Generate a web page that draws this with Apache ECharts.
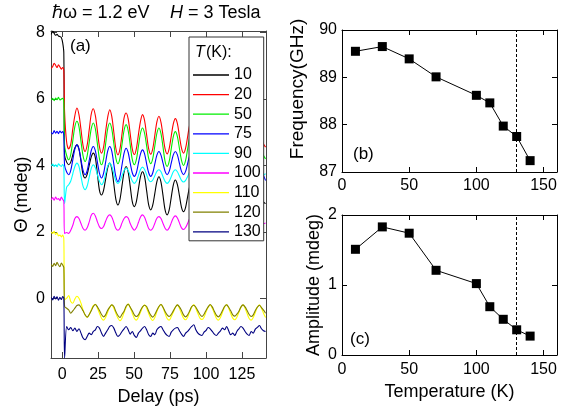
<!DOCTYPE html>
<html>
<head>
<meta charset="utf-8">
<script src="https://cdn.jsdelivr.net/npm/echarts@6/dist/echarts.min.js"></script>
<style>
  html, body { margin: 0; padding: 0; background: #fff; }
  #chart { width: 571px; height: 411px; }
</style>
</head>
<body>
<div id="chart"></div>
<script>
// Pump-probe delay (ps), shared by every trace
const delay = [
  -7.5, -6.5, -5.5, -4.5, -3.5, -2.5, -1.5, -0.5, 0.4, 1.2,
  1.75, 3.18, 4.6, 6.03, 7.45, 8.88, 10.3, 11.73, 13.15, 14.58,
  16.0, 17.43, 18.85, 20.28, 21.7, 23.13, 24.55, 25.98, 27.4, 28.83,
  30.25, 31.68, 33.1, 34.53, 35.95, 37.38, 38.8, 40.23, 41.65, 43.08,
  44.5, 45.93, 47.35, 48.78, 50.2, 51.63, 53.05, 54.48, 55.9, 57.33,
  58.75, 60.18, 61.6, 63.03, 64.45, 65.88, 67.3, 68.73, 70.15, 71.58,
  73.0, 74.43, 75.85, 77.28, 78.7, 80.13, 81.55, 82.98, 84.4, 85.83,
  87.25, 88.68, 90.1, 91.53, 92.95, 94.38, 95.8, 97.23, 98.65, 100.08,
  101.5, 102.93, 104.35, 105.78, 107.2, 108.63, 110.05, 111.48, 112.9, 114.33,
  115.75, 117.18, 118.6, 120.03, 121.45, 122.88, 124.3, 125.73, 127.15, 128.58,
  130.0, 131.43, 132.85, 134.28, 135.7, 137.13, 138.55, 139.98, 141.4
];

// Legend labels: sample temperature T (K)
const traceTemps = ['10', '20', '50', '75', '90', '100', '110', '120', '130'];

// Kerr rotation Θ (mdeg), vertically offset traces
const theta10K = [
  7.95, 8.05, 7.98, 7.92, 7.95, 7.9, 7.88, 7.85, 7.7, 7.4,
  4.3, 4.1, 4.02, 4.1, 4.32, 4.53, 4.62, 4.5,
  4.12, 3.73, 3.62, 3.73, 4.0, 4.26, 4.37, 4.23,
  3.74, 3.25, 3.11, 3.25, 3.59, 3.93, 4.07, 3.9,
  3.44, 2.98, 2.81, 2.98, 3.39, 3.8, 3.97, 3.8,
  3.37, 2.91, 2.76, 2.91, 3.29, 3.66, 3.81, 3.66,
  3.24, 2.81, 2.66, 2.81, 3.16, 3.51, 3.66, 3.5,
  3.09, 2.66, 2.51, 2.66, 3.04, 3.41, 3.56, 3.42,
  3.09, 2.74, 2.61, 2.74, 3.06, 3.37, 3.5, 3.37,
  3.03, 2.68, 2.55, 2.68, 3.0, 3.32, 3.45, 3.32,
  3.0, 2.68, 2.55, 2.68, 2.99, 3.29, 3.42, 3.29,
  2.98, 2.68, 2.55, 2.68, 2.98, 3.28, 3.4, 3.27,
  2.99, 2.7, 2.58, 2.7, 2.99, 3.28, 3.4, 3.3,
  3.1, 2.9, 2.85
];
const theta20K = [
  6.92, 6.98, 7.08, 7.02, 6.95, 7.03, 6.97, 6.9, 6.95, 6.85,
  5.6, 4.7, 4.5, 4.64, 5.1, 5.5, 5.73, 5.53,
  5.08, 4.6, 4.42, 4.61, 5.07, 5.55, 5.71, 5.5,
  5.04, 4.56, 4.37, 4.55, 5.02, 5.45, 5.68, 5.48,
  5.0, 4.51, 4.32, 4.5, 4.95, 5.43, 5.58, 5.4,
  4.95, 4.5, 4.33, 4.51, 4.93, 5.33, 5.53, 5.35,
  4.92, 4.5, 4.34, 4.51, 4.91, 5.31, 5.48, 5.3,
  4.9, 4.5, 4.35, 4.51, 4.88, 5.25, 5.41, 5.26,
  4.88, 4.52, 4.37, 4.52, 4.87, 5.23, 5.38, 5.23,
  4.86, 4.52, 4.38, 4.52, 4.85, 5.19, 5.33, 5.19,
  4.85, 4.53, 4.4, 4.53, 4.85, 5.17, 5.3, 5.17,
  4.83, 4.53, 4.4, 4.53, 4.83, 5.13, 5.25, 5.12,
  4.82, 4.54, 4.42, 4.54, 4.82, 5.1, 5.22, 5.1,
  4.85, 4.65, 4.55
];
const theta50K = [
  5.97, 6.02, 5.95, 6.03, 5.98, 6.05, 5.97, 6.0, 6.02, 5.9,
  4.6, 4.3, 4.17, 4.33, 4.75, 5.17, 5.33, 5.17,
  4.72, 4.29, 4.12, 4.29, 4.7, 5.11, 5.28, 5.1,
  4.65, 4.2, 4.02, 4.2, 4.65, 5.1, 5.28, 5.1,
  4.66, 4.22, 4.05, 4.22, 4.64, 5.06, 5.23, 5.05,
  4.62, 4.18, 4.02, 4.18, 4.58, 4.97, 5.13, 4.97,
  4.59, 4.21, 4.05, 4.21, 4.59, 4.97, 5.13, 4.96,
  4.55, 4.12, 3.97, 4.12, 4.5, 4.87, 5.02, 4.87,
  4.51, 4.15, 4.0, 4.15, 4.5, 4.85, 5.0, 4.85,
  4.5, 4.16, 4.02, 4.16, 4.5, 4.83, 4.97, 4.83,
  4.5, 4.17, 4.03, 4.17, 4.49, 4.82, 4.95, 4.81,
  4.49, 4.18, 4.05, 4.18, 4.49, 4.79, 4.92, 4.79,
  4.48, 4.18, 4.05, 4.18, 4.48, 4.77, 4.9, 4.77,
  4.5, 4.3, 4.2
];
const theta75K = [
  5.0, 4.95, 5.05, 4.97, 5.03, 4.96, 5.04, 4.98, 5.02, 4.9,
  4.0, 3.8, 3.72, 3.85, 4.17, 4.49, 4.62, 4.49,
  4.17, 3.85, 3.72, 3.84, 4.15, 4.45, 4.57, 4.44,
  4.1, 3.76, 3.62, 3.76, 4.1, 4.43, 4.57, 4.43,
  4.04, 3.66, 3.51, 3.66, 4.02, 4.37, 4.52, 4.39,
  4.07, 3.78, 3.67, 3.78, 4.07, 4.35, 4.47, 4.35,
  4.05, 3.78, 3.67, 3.78, 4.05, 4.31, 4.42, 4.31,
  4.07, 3.82, 3.72, 3.82, 4.07, 4.32, 4.42, 4.32,
  4.06, 3.82, 3.72, 3.82, 4.06, 4.3, 4.4, 4.3,
  4.05, 3.82, 3.72, 3.82, 4.05, 4.28, 4.38, 4.28,
  4.04, 3.81, 3.72, 3.81, 4.04, 4.27, 4.36, 4.27,
  4.03, 3.8, 3.7, 3.8, 4.03, 4.26, 4.35, 4.26,
  4.03, 3.8, 3.7, 3.8, 4.03, 4.26, 4.35, 4.25,
  4.0, 3.7, 3.55
];
const theta90K = [
  3.98, 4.04, 3.97, 4.02, 3.96, 4.05, 4.0, 3.97, 4.03, 3.95,
  2.85, 3.35, 3.42, 3.53, 3.75, 3.97, 4.07, 3.97,
  3.67, 3.37, 3.27, 3.38, 3.65, 3.91, 4.02, 3.93,
  3.72, 3.52, 3.42, 3.51, 3.75, 3.98, 4.07, 3.97,
  3.75, 3.53, 3.46, 3.53, 3.69, 3.85, 3.92, 3.85,
  3.69, 3.53, 3.46, 3.53, 3.7, 3.88, 3.95, 3.88,
  3.72, 3.56, 3.51, 3.56, 3.69, 3.82, 3.87, 3.81,
  3.66, 3.52, 3.46, 3.52, 3.66, 3.81, 3.87, 3.81,
  3.68, 3.55, 3.5, 3.55, 3.67, 3.8, 3.85, 3.8,
  3.67, 3.55, 3.5, 3.55, 3.67, 3.8, 3.85, 3.8,
  3.68, 3.57, 3.52, 3.57, 3.68, 3.79, 3.84, 3.79,
  3.67, 3.57, 3.52, 3.57, 3.67, 3.78, 3.83, 3.78,
  3.68, 3.57, 3.53, 3.57, 3.68, 3.78, 3.83, 3.8,
  3.75, 3.72, 3.75
];
const theta100K = [
  2.97, 3.03, 2.95, 3.05, 2.98, 3.0, 2.94, 3.05, 2.98, 2.92,
  1.95, 1.98, 1.95, 2.05, 2.2, 2.4, 2.46, 2.4,
  2.25, 2.1, 2.05, 2.12, 2.3, 2.5, 2.56, 2.48,
  2.3, 2.15, 2.1, 2.16, 2.32, 2.46, 2.51, 2.45,
  2.28, 2.1, 2.05, 2.11, 2.27, 2.4, 2.46, 2.42,
  2.25, 2.12, 2.05, 2.12, 2.28, 2.45, 2.51, 2.44,
  2.27, 2.1, 2.05, 2.11, 2.26, 2.41, 2.46, 2.4,
  2.25, 2.11, 2.05, 2.12, 2.27, 2.42, 2.48, 2.42,
  2.27, 2.12, 2.07, 2.13, 2.26, 2.4, 2.45, 2.4,
  2.26, 2.12, 2.07, 2.13, 2.26, 2.39, 2.45, 2.39,
  2.26, 2.13, 2.08, 2.13, 2.26, 2.38, 2.44, 2.38,
  2.26, 2.13, 2.08, 2.13, 2.26, 2.38, 2.44, 2.38,
  2.27, 2.15, 2.1, 2.15, 2.27, 2.38, 2.44, 2.38,
  2.3, 2.25, 2.27
];
const theta110K = [
  2.0, 1.95, 2.02, 1.92, 1.97, 1.88, 1.9, 1.85, 1.9, 1.8,
  -0.05, 0.0, 0.08, -0.1, -0.15, -0.02, 0.06, 0.0,
  -0.15, -0.35, -0.5, -0.58, -0.5, -0.35, -0.22, -0.18,
  -0.3, -0.45, -0.6, -0.66, -0.58, -0.42, -0.27, -0.2,
  -0.3, -0.46, -0.6, -0.68, -0.6, -0.43, -0.28, -0.17,
  -0.28, -0.45, -0.6, -0.66, -0.57, -0.42, -0.28, -0.2,
  -0.3, -0.46, -0.6, -0.67, -0.58, -0.4, -0.26, -0.18,
  -0.29, -0.46, -0.61, -0.66, -0.56, -0.42, -0.28, -0.2,
  -0.3, -0.47, -0.6, -0.65, -0.57, -0.41, -0.27, -0.19,
  -0.31, -0.46, -0.6, -0.64, -0.57, -0.41, -0.27, -0.2,
  -0.3, -0.45, -0.6, -0.66, -0.58, -0.42, -0.27, -0.19,
  -0.3, -0.46, -0.6, -0.65, -0.57, -0.42, -0.28, -0.2,
  -0.3, -0.46, -0.61, -0.66, -0.58, -0.43, -0.27, -0.2,
  -0.3, -0.45, -0.58
];
const theta120K = [
  1.02, 0.96, 1.05, 0.98, 1.08, 1.0, 0.95, 1.06, 1.0, 0.93,
  -0.25, -0.3, -0.35, -0.45, -0.38, -0.3, -0.22, -0.2,
  -0.27, -0.38, -0.5, -0.57, -0.49, -0.38, -0.25, -0.19,
  -0.26, -0.37, -0.49, -0.56, -0.5, -0.36, -0.27, -0.2,
  -0.25, -0.4, -0.52, -0.58, -0.48, -0.39, -0.24, -0.18,
  -0.27, -0.38, -0.5, -0.55, -0.5, -0.37, -0.26, -0.21,
  -0.25, -0.39, -0.51, -0.57, -0.49, -0.36, -0.25, -0.19,
  -0.27, -0.4, -0.5, -0.55, -0.49, -0.38, -0.27, -0.2,
  -0.26, -0.37, -0.5, -0.56, -0.5, -0.38, -0.25, -0.21,
  -0.27, -0.38, -0.49, -0.55, -0.48, -0.36, -0.26, -0.19,
  -0.26, -0.39, -0.51, -0.56, -0.49, -0.37, -0.25, -0.2,
  -0.27, -0.38, -0.5, -0.54, -0.48, -0.39, -0.26, -0.2,
  -0.26, -0.37, -0.49, -0.55, -0.5, -0.37, -0.27, -0.21,
  -0.28, -0.36, -0.45
];
const theta130K = [
  0.02, -0.05, 0.06, -0.02, 0.04, -0.06, 0.03, -0.04, 0.05, 0.0,
  -1.8, -0.85, -0.95, -0.88, -0.98, -0.9, -1.0, -0.92,
  -1.05, -1.2, -1.25, -1.15, -1.05, -1.1, -1.0, -0.95,
  -0.85, -0.9, -1.05, -1.15, -1.05, -0.95, -0.85, -0.82,
  -0.9, -1.05, -1.15, -1.1, -1.0, -0.92, -0.85, -0.95,
  -1.08, -1.0, -1.12, -1.18, -1.05, -0.98, -0.9, -0.85,
  -0.95, -1.1, -1.15, -1.05, -1.1, -0.95, -0.88, -0.85,
  -0.95, -1.05, -1.12, -1.15, -1.02, -0.95, -0.9, -0.88,
  -0.98, -1.08, -1.15, -1.05, -1.0, -0.92, -0.85, -0.8,
  -0.95, -1.05, -1.1, -1.12, -1.02, -0.97, -0.88, -0.92,
  -1.0, -1.08, -1.12, -1.05, -0.98, -0.9, -0.95, -0.85,
  -0.98, -1.1, -1.05, -1.12, -1.0, -0.92, -0.85, -0.9,
  -1.0, -1.08, -1.12, -1.0, -1.05, -0.93, -0.88, -0.82,
  -0.92, -0.98, -1.0
];

// Fitted oscillation parameters versus temperature
const fitTempK = [10, 30, 50, 70, 100, 110, 120, 130, 140];
const freqGHz = [89.55, 89.65, 89.39, 89.01, 88.62, 88.46, 87.97, 87.75, 87.24];
const ampMdeg = [1.51, 1.83, 1.74, 1.21, 1.02, 0.69, 0.51, 0.36, 0.27];
const transitionK = 130;

const traceValues = [theta10K, theta20K, theta50K, theta75K, theta90K,
                     theta100K, theta110K, theta120K, theta130K];
const traceColors = ['#000000', '#ff0000', '#00ee00', '#0000ff', '#00ffff',
                     '#ff00ff', '#ffff00', '#808000', '#000080'];

const FONT = '"Liberation Sans", Arial, Helvetica, sans-serif';
const chart = echarts.init(document.getElementById('chart'), null, { renderer: 'canvas' });

function frameAxis(gridIndex, position, min, max, color, extra) {
  return Object.assign({
    gridIndex, position, type: 'value', min, max,
    axisLine: { show: true, onZero: false, lineStyle: { color, width: 1 } },
    axisTick: { show: false },
    axisLabel: { show: false },
    splitLine: { show: false }
  }, extra || {});
}

const leftFrame = '#444';
const tickLabel = { fontSize: 16, fontFamily: FONT, color: '#000' };
const axisName = { fontSize: 18, fontFamily: FONT, color: '#000' };

const xAxes = [
  // panel (a)
  frameAxis(0, 'bottom', -7.7, 141.7, leftFrame, {
    axisTick: { show: true, inside: true, length: 6, customValues: [0, 25, 50, 75, 100, 125], lineStyle: { color: leftFrame } },
    axisLabel: Object.assign({ show: true, margin: 9, customValues: [0, 25, 50, 75, 100, 125] }, tickLabel),
    name: 'Delay (ps)', nameLocation: 'middle', nameGap: 28, nameTextStyle: axisName
  }),
  frameAxis(0, 'top', -7.7, 141.7, leftFrame, {
    axisTick: { show: true, inside: true, length: 6, customValues: [0, 25, 50, 75, 100, 125], lineStyle: { color: leftFrame } }
  }),
  // panel (b)
  frameAxis(1, 'bottom', 0, 160, '#000', {
    interval: 50,
    axisTick: { show: true, inside: true, length: 5 },
    axisLabel: Object.assign({ show: true, margin: 6 }, tickLabel)
  }),
  frameAxis(1, 'top', 0, 160, '#000', { interval: 50, axisTick: { show: true, inside: true, length: 5 } }),
  // panel (c)
  frameAxis(2, 'bottom', 0, 160, '#000', {
    interval: 50,
    axisTick: { show: true, inside: true, length: 5 },
    axisLabel: Object.assign({ show: true, margin: 7 }, tickLabel),
    name: 'Temperature (K)', nameLocation: 'middle', nameGap: 28, nameTextStyle: axisName
  }),
  frameAxis(2, 'top', 0, 160, '#000', { interval: 50, axisTick: { show: true, inside: true, length: 5 } })
];

const yAxes = [
  frameAxis(0, 'left', -1.8, 8.05, leftFrame, {
    axisTick: { show: true, inside: true, length: 6, customValues: [0, 2, 4, 6, 8], lineStyle: { color: leftFrame } },
    axisLabel: Object.assign({ show: true, margin: 6, customValues: [0, 2, 4, 6, 8] }, tickLabel),
    name: 'Θ (mdeg)', nameLocation: 'middle', nameGap: 20, nameTextStyle: axisName
  }),
  frameAxis(0, 'right', -1.8, 8.05, leftFrame, {
    axisTick: { show: true, inside: true, length: 6, customValues: [0, 2, 4, 6, 8], lineStyle: { color: leftFrame } }
  }),
  frameAxis(1, 'left', 87, 90, '#000', {
    interval: 1,
    axisTick: { show: true, inside: true, length: 5 },
    axisLabel: Object.assign({ show: true, margin: 5 }, tickLabel),
    name: 'Frequency(GHz)', nameLocation: 'middle', nameGap: 35,
    nameTextStyle: Object.assign({}, axisName, { fontSize: 19, padding: [0, 0, 0, 24] })
  }),
  frameAxis(1, 'right', 87, 90, '#000', { interval: 1, axisTick: { show: true, inside: true, length: 5 } }),
  frameAxis(2, 'left', 0, 2, '#000', {
    interval: 1,
    axisTick: { show: true, inside: true, length: 5 },
    axisLabel: Object.assign({ show: true, margin: 5 }, tickLabel),
    name: 'Amplitude (mdeg)', nameLocation: 'middle', nameGap: 19, nameTextStyle: axisName
  }),
  frameAxis(2, 'right', 0, 2, '#000', { interval: 1, axisTick: { show: true, inside: true, length: 5 } })
];

const traceSeries = traceTemps.map((name, k) => ({
  name,
  type: 'line',
  xAxisIndex: 0,
  yAxisIndex: 0,
  data: delay.map((t, i) => [t, traceValues[k][i]]),
  symbol: 'none',
  smooth: 0.3,
  clip: true,
  color: traceColors[k],
  lineStyle: { color: traceColors[k], width: 1.1 },
  z: 2
}));

function fitSeries(name, gridAxis, values) {
  return {
    name,
    type: 'line',
    xAxisIndex: gridAxis,
    yAxisIndex: gridAxis,
    data: fitTempK.map((t, i) => [t, values[i]]),
    symbol: 'rect',
    symbolSize: 9,
    itemStyle: { color: '#000' },
    lineStyle: { color: '#000', width: 1 },
    markLine: {
      silent: true,
      symbol: ['none', 'none'],
      label: { show: false },
      lineStyle: { color: '#000', width: 1, type: [3, 2] },
      data: [{ xAxis: transitionK }]
    },
    z: 3
  };
}

const option = {
  animation: false,
  backgroundColor: '#fff',
  grid: [
    { left: 51, top: 31, width: 215, height: 327 },
    { left: 342, top: 30, width: 215, height: 142 },
    { left: 342, top: 215, width: 215, height: 140 }
  ],
  xAxis: xAxes,
  yAxis: yAxes,
  legend: {
    data: traceTemps,
    orient: 'vertical',
    left: 189,
    top: 37,
    padding: [30, 3, 1, 4],
    icon: 'rect',
    itemWidth: 36,
    itemHeight: 1.3,
    itemGap: 3.6,
    selectedMode: false,
    backgroundColor: '#fff',
    borderColor: '#333',
    borderWidth: 1,
    textStyle: { fontSize: 16, fontFamily: FONT, color: '#000', lineHeight: 16 },
    z: 5
  },
  graphic: [
    { type: 'text', left: 52, top: 4, z: 10, style: { text: 'ℏω = 1.2 eV', font: '18px ' + FONT, fill: '#000' } },
    { type: 'text', left: 170, top: 4, z: 10, style: { text: 'H', font: 'italic 18px ' + FONT, fill: '#000' } },
    { type: 'text', left: 188, top: 4, z: 10, style: { text: '= 3 Tesla', font: '18px ' + FONT, fill: '#000' } },
    { type: 'text', left: 195, top: 45, z: 10, style: { text: 'T', font: 'italic 16px ' + FONT, fill: '#000' } },
    { type: 'text', left: 206, top: 45, z: 10, style: { text: '(K):', font: '16px ' + FONT, fill: '#000' } },
    { type: 'text', left: 70, top: 38, z: 10, style: { text: '(a)', font: '17px ' + FONT, fill: '#000' } },
    { type: 'text', left: 353, top: 146, z: 10, style: { text: '(b)', font: '17px ' + FONT, fill: '#000' } },
    { type: 'text', left: 350, top: 331, z: 10, style: { text: '(c)', font: '17px ' + FONT, fill: '#000' } }
  ],
  series: traceSeries.concat([
    fitSeries('frequency', 2, freqGHz),
    fitSeries('amplitude', 4, ampMdeg)
  ])
};

chart.setOption(option);
</script>
</body>
</html>
